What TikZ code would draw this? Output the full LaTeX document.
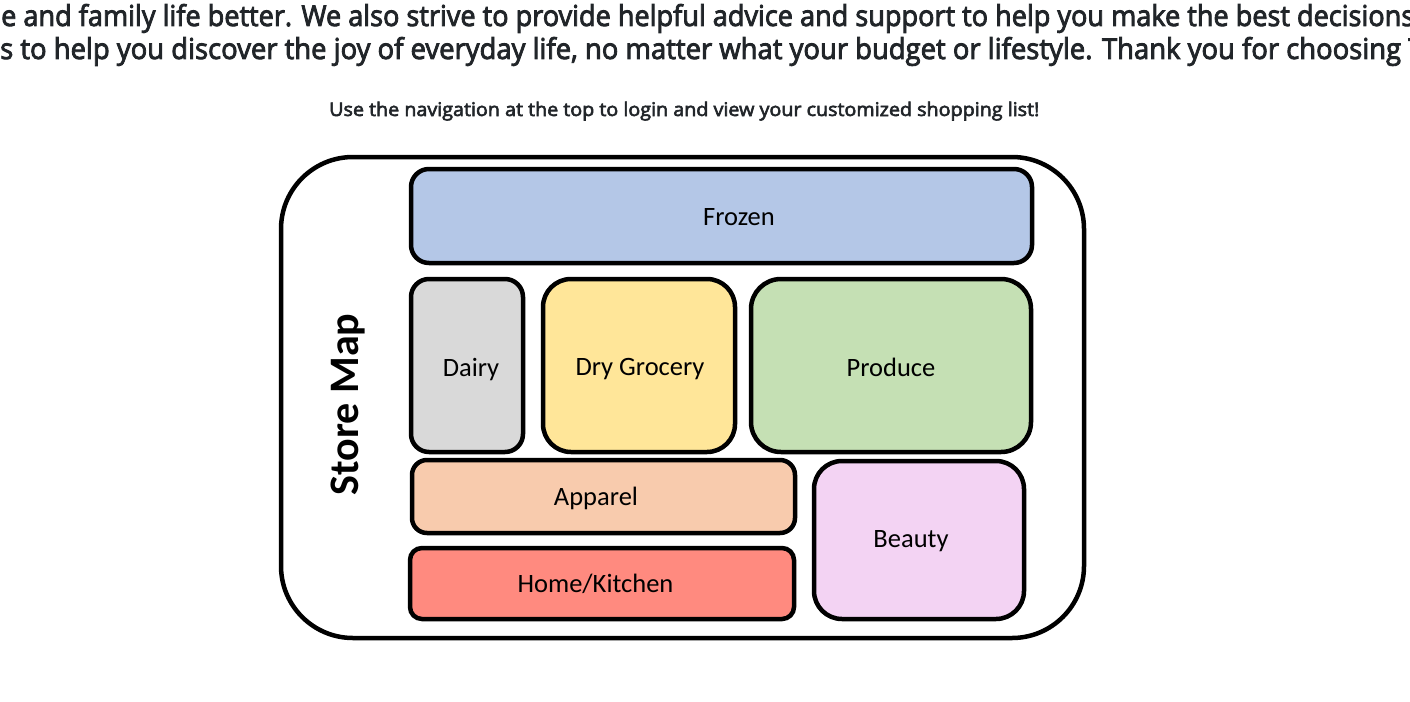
\documentclass[tikz,border=0pt]{standalone}
\usepackage{fontspec}
\usepackage{graphicx}
\setmainfont{Carlito}
\newfontfamily\topfont{Open Sans}[FakeBold=3]
\definecolor{txt}{HTML}{212529}
\definecolor{cFrozen}{HTML}{B4C7E7}
\definecolor{cDairy}{HTML}{D9D9D9}
\definecolor{cDry}{HTML}{FFE699}
\definecolor{cProduce}{HTML}{C5E0B4}
\definecolor{cApparel}{HTML}{F8CBAD}
\definecolor{cHome}{HTML}{FF8A7F}
\definecolor{cBeauty}{HTML}{F3D3F3}
\begin{document}
\begin{tikzpicture}[x=1pt,y=-1pt,
  zone/.style={draw=black, line width=4.5pt, rounded corners=#1, inner sep=0pt},
  lbl/.style={anchor=base, inner sep=0pt, text=black, font=\fontsize{26.5}{30}\selectfont},
  intro/.style={anchor=base west, inner sep=0pt, text=txt}]
\useasboundingbox (0,0) rectangle (1410,701);
\clip (0,0) rectangle (1410,701);
\fill[white] (0,0) rectangle (1410,701);
% intro text
\node[intro] (intro1) at (1,26) {\resizebox{1413pt}{22pt}{\topfont e and family life better. We also strive to provide helpful advice and support to help you make the best decisions}};
\node[intro] (intro2) at (0,59) {\resizebox{1423pt}{22pt}{\topfont s to help you discover the joy of everyday life, no matter what your budget or lifestyle. Thank you for choosing T}};
\node[intro] (nav) at (329,116) {\resizebox{710pt}{14.3pt}{\topfont Use the navigation at the top to login and view your customized shopping list!}};
% outer frame
\node[zone=72pt, fill=white, minimum width=803pt, minimum height=481pt] (map) at (682.5,397.5) {};
\node[rotate=90, anchor=base, inner sep=0pt, font=\fontsize{42}{50}\selectfont\bfseries] (title) at (358,404.5) {Store Map};
% departments
\node[zone=18pt, fill=cFrozen, minimum width=621pt, minimum height=94pt] (frozen) at (721.5,216) {};
\node[zone=18pt, fill=cDairy, minimum width=112pt, minimum height=173pt] (dairy) at (467,365.5) {};
\node[zone=28pt, fill=cDry, minimum width=192pt, minimum height=173pt] (dry) at (639,365.5) {};
\node[zone=30pt, fill=cProduce, minimum width=280pt, minimum height=173pt] (produce) at (891,365.5) {};
\node[zone=15pt, fill=cApparel, minimum width=383pt, minimum height=73pt] (apparel) at (603.5,496.5) {};
\node[zone=12pt, fill=cHome, minimum width=384pt, minimum height=71pt] (home) at (602,583.5) {};
\node[zone=28pt, fill=cBeauty, minimum width=210pt, minimum height=158pt] (beauty) at (919,540) {};
% labels
\node[lbl] (frozenL) at (739,225) {Frozen};
\node[lbl] (dairyL) at (471,376.5) {Dairy};
\node[lbl] (dryL) at (640,375.5) {Dry Grocery};
\node[lbl] (produceL) at (891,376) {Produce};
\node[lbl] (apparelL) at (596,505) {Apparel};
\node[lbl] (homeL) at (595.5,592) {Home/Kitchen};
\node[lbl] (beautyL) at (911,547.5) {Beauty};
\end{tikzpicture}
\end{document}
